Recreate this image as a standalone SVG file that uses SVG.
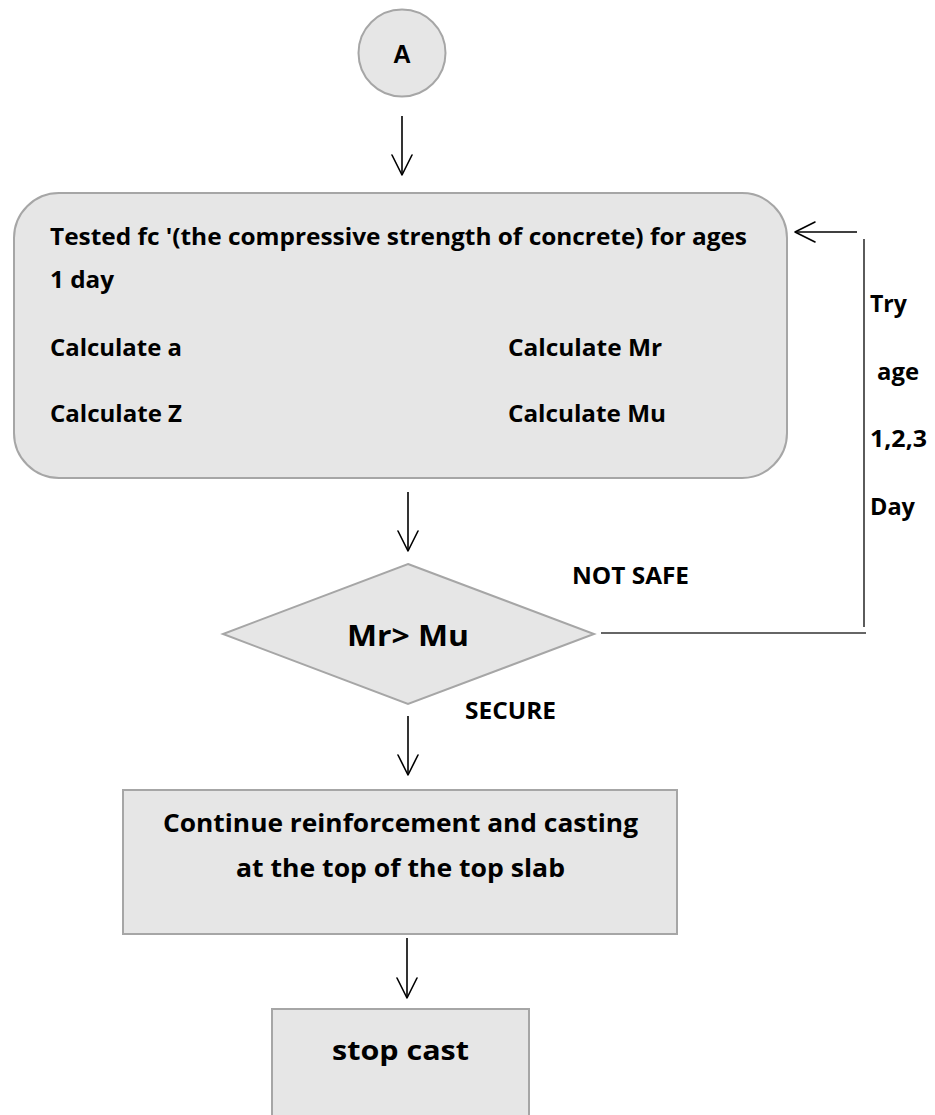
<svg xmlns="http://www.w3.org/2000/svg" width="935" height="1115" viewBox="0 0 935 1115">
<style>
.box{fill:#E6E6E6;stroke:#A6A6A6;stroke-width:2}
.t{font-family:"Open Sans",Lato,"Liberation Sans",sans-serif;font-weight:bold;fill:#000;font-size:24px}
.c{fill:none;stroke:#000;stroke-width:1.6}
</style>
<defs>
<marker id="ah" viewBox="0 0 22 22" refX="21" refY="11" markerWidth="22" markerHeight="22" markerUnits="userSpaceOnUse" orient="auto">
<path d="M1,1 L21,11 L1,21" fill="none" stroke="#000" stroke-width="1.6" stroke-linecap="round" stroke-linejoin="round"/>
</marker>
</defs>
<g id="connectors">
<line class="c" x1="402" y1="116" x2="402" y2="175" marker-end="url(#ah)"/>
<line class="c" x1="408" y1="492" x2="408" y2="551" marker-end="url(#ah)"/>
<line class="c" x1="408" y1="716" x2="408" y2="775" marker-end="url(#ah)"/>
<line class="c" x1="407" y1="938" x2="407" y2="998" marker-end="url(#ah)"/>
<line class="c" x1="601" y1="633" x2="866" y2="633" style="stroke:#333"/>
<line class="c" x1="864" y1="239" x2="864" y2="627" style="stroke:#333"/>
<line class="c" x1="857" y1="232" x2="795" y2="232" marker-end="url(#ah)"/>
<text class="t" x="870" y="312" textLength="37" lengthAdjust="spacingAndGlyphs">Try</text>
<text class="t" x="877" y="380" textLength="42" lengthAdjust="spacingAndGlyphs">age</text>
<text class="t" x="870" y="447" textLength="57" lengthAdjust="spacingAndGlyphs">1,2,3</text>
<text class="t" x="870" y="515" textLength="45" lengthAdjust="spacingAndGlyphs">Day</text>
<text class="t" x="572" y="584" textLength="117" lengthAdjust="spacingAndGlyphs">NOT SAFE</text>
<text class="t" x="465" y="719" textLength="91" lengthAdjust="spacingAndGlyphs">SECURE</text>
</g>
<g id="start">
<circle class="box" cx="402" cy="53" r="43.5"/>
<text x="402" y="62.5" text-anchor="middle" style="font-family:'Liberation Sans',Arial,sans-serif;font-weight:bold;font-size:25px">A</text>
</g>
<g id="process">
<rect class="box" x="14" y="193" width="773" height="285" rx="45" ry="45"/>
<text class="t" x="50" y="245" textLength="697" lengthAdjust="spacingAndGlyphs">Tested fc '(the compressive strength of concrete) for ages</text>
<text class="t" x="50" y="288" textLength="64" lengthAdjust="spacingAndGlyphs">1 day</text>
<text class="t" x="50" y="356" textLength="132" lengthAdjust="spacingAndGlyphs">Calculate a</text>
<text class="t" x="50" y="422" textLength="132" lengthAdjust="spacingAndGlyphs">Calculate Z</text>
<text class="t" x="508" y="356" textLength="154" lengthAdjust="spacingAndGlyphs">Calculate Mr</text>
<text class="t" x="508" y="422" textLength="158" lengthAdjust="spacingAndGlyphs">Calculate Mu</text>
</g>
<g id="decision">
<polygon class="box" points="408,564 594,634 408,704 223,634"/>
<text class="t" x="347" y="646" style="font-size:28px" textLength="122" lengthAdjust="spacingAndGlyphs">Mr&gt; Mu</text>
</g>
<g id="continue">
<rect class="box" x="123" y="790" width="554" height="144"/>
<text class="t" x="163" y="832" style="font-size:25px" textLength="475" lengthAdjust="spacingAndGlyphs">Continue reinforcement and casting</text>
<text class="t" x="236" y="877" style="font-size:25px" textLength="329" lengthAdjust="spacingAndGlyphs">at the top of the top slab</text>
</g>
<g id="stop">
<rect class="box" x="272" y="1009" width="257" height="120"/>
<text class="t" x="332" y="1060" style="font-size:27px" textLength="137" lengthAdjust="spacingAndGlyphs">stop cast</text>
</g>
</svg>
